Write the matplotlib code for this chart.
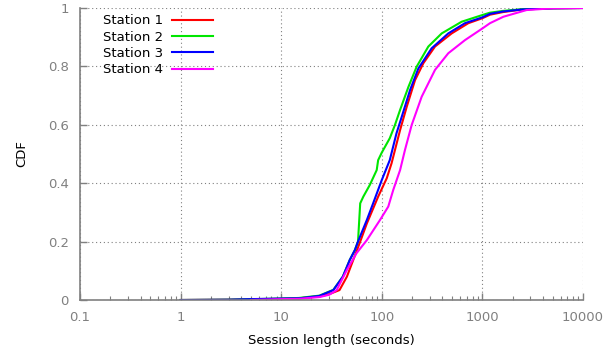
import numpy as np
import matplotlib
matplotlib.use('Agg')
import matplotlib.pyplot as plt
from matplotlib.ticker import FixedLocator, LogLocator, NullFormatter

# valores (CDF de duracion de sesion)
labels = ['Station 1', 'Station 2', 'Station 3', 'Station 4']
colors = ['#ff0000', '#00e600', '#0000ff', '#ff00ff']

x1 = [1, 3, 10, 15, 24, 30, 38, 45, 52, 61, 71, 92, 112, 125, 152, 177, 214, 259, 338, 495, 725, 1000, 1190, 1600, 2500, 5000, 10000]
y1 = [0, 0.001, 0.004, 0.006, 0.012, 0.02, 0.034, 0.08, 0.137, 0.2, 0.262, 0.354, 0.417, 0.468, 0.582, 0.662, 0.753, 0.811, 0.868, 0.913, 0.948, 0.965, 0.977, 0.986, 0.995, 0.999, 1.0]

x2 = [1, 3, 10, 15, 24, 33, 41, 48, 54, 58, 61, 65.5, 76, 89, 92, 100, 120, 135, 152, 184, 222, 290, 394, 622, 1000, 1190, 1600, 2500, 5000, 10000]
y2 = [0, 0.001, 0.005, 0.007, 0.015, 0.035, 0.08, 0.137, 0.171, 0.2, 0.331, 0.354, 0.394, 0.445, 0.479, 0.505, 0.554, 0.599, 0.651, 0.73, 0.799, 0.868, 0.913, 0.953, 0.976, 0.984, 0.99, 0.996, 0.999, 1.0]

x3 = [1, 3, 5, 10, 15.4, 24, 33, 41, 48, 54, 58, 71, 82, 100, 120, 140, 158, 191, 231, 313, 458, 671, 1000, 1190, 1600, 2500, 5000, 10000]
y3 = [0, 0.001, 0.003, 0.005, 0.006, 0.014, 0.034, 0.08, 0.137, 0.171, 0.2, 0.274, 0.331, 0.411, 0.479, 0.571, 0.628, 0.719, 0.793, 0.862, 0.913, 0.948, 0.968, 0.98, 0.988, 0.995, 0.999, 1.0]

x4 = [5, 10, 15, 24, 30, 35.6, 45, 56, 71, 96, 116, 130, 152, 170, 198, 249, 338, 458, 671, 1000, 1190, 1615, 2750, 5000, 10000]
y4 = [0, 0.003, 0.004, 0.01, 0.018, 0.034, 0.103, 0.16, 0.205, 0.274, 0.32, 0.377, 0.445, 0.514, 0.599, 0.696, 0.788, 0.845, 0.89, 0.93, 0.948, 0.97, 0.993, 0.999, 1.0]

series = [(x1, y1), (x2, y2), (x3, y3), (x4, y4)]

xticks = [0.1, 1, 10, 100, 1000, 10000]
xticklabels = ['0.1', '1', '10', '100', '1000', '10000']
yticks = [0, 0.2, 0.4, 0.6, 0.8, 1]
yticklabels = ['0', '0.2', '0.4', '0.6', '0.8', '1']

gris = '#808080'

fig = plt.figure(figsize=(6.13, 3.54), dpi=100)
ax = fig.add_axes([80/613, 54/354, 503/613, 292/354])

for (xs, ys), lab, c in zip(series, labels, colors):
    ax.plot(xs, ys, color=c, lw=1.5, label=lab)

ax.set_xscale('log')
ax.set_xlim(0.1, 10000)
ax.set_ylim(0, 1)
ax.xaxis.set_major_locator(FixedLocator(xticks))
ax.set_xticklabels(xticklabels)
ax.xaxis.set_minor_locator(LogLocator(base=10, subs=np.arange(2, 10)))
ax.xaxis.set_minor_formatter(NullFormatter())
ax.set_yticks(yticks)
ax.set_yticklabels(yticklabels)

for s in ['top', 'right']:
    ax.spines[s].set_visible(False)
for s in ['left', 'bottom']:
    ax.spines[s].set_color(gris)
    ax.spines[s].set_linewidth(1.2)

ax.tick_params(which='major', direction='in', length=5, width=1, color=gris,
               labelcolor=gris, labelsize=9.5, pad=8)
ax.tick_params(which='minor', direction='in', length=3, width=0.8, color=gris)
ax.grid(True, which='major', color=gris, ls=(0, (1, 2.5)), lw=0.8)

ax.set_xlabel('Session length (seconds)', fontsize=9.5, labelpad=7)
ax.set_ylabel('CDF', fontsize=9.5, labelpad=14)

ax.legend(loc='upper left', bbox_to_anchor=(0.046, 0.978), frameon=False,
          markerfirst=False, fontsize=9.5, handlelength=3.1, handletextpad=0.7,
          labelspacing=0.25, borderpad=0, borderaxespad=0)

fig.savefig('out.png', dpi=100)
